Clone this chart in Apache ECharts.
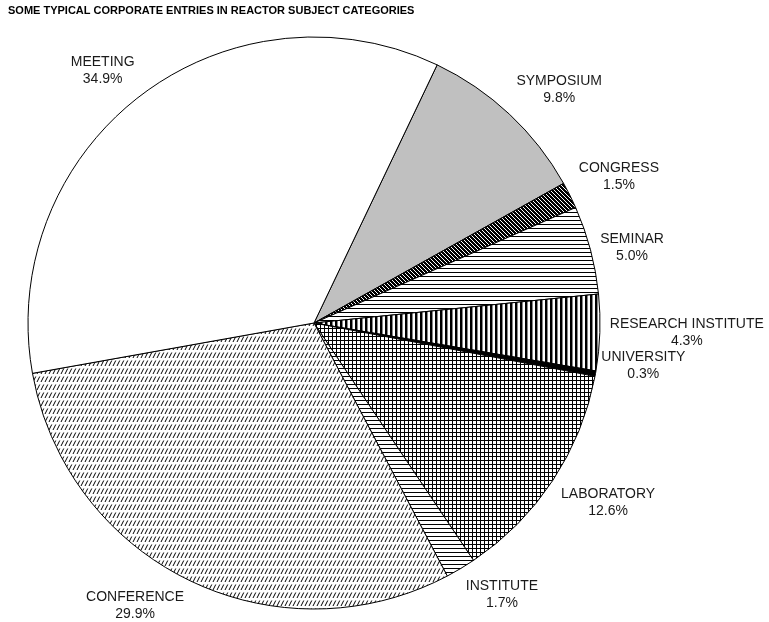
<!DOCTYPE html>
<html>
<head>
<meta charset="utf-8">
<title>Corporate entries in reactor subject categories</title>
<script src="https://cdn.jsdelivr.net/npm/echarts@6/dist/echarts.min.js"></script>
<style>
  html, body { margin: 0; padding: 0; background: #fff; }
  #chart { width: 769px; height: 622px; }
</style>
</head>
<body>
<div id="chart"></div>
<script>
  // data, clockwise from the top boundary
  const categories = ['SYMPOSIUM', 'CONGRESS', 'SEMINAR', 'RESEARCH INSTITUTE', 'UNIVERSITY',
    'LABORATORY', 'INSTITUTE', 'CONFERENCE', 'MEETING'];
  const shares = [9.8, 1.5, 5.0, 4.3, 0.3, 12.6, 1.7, 29.9, 34.9];
  const fills = ['gray', 'hatchBlack', 'hLines', 'vBars', 'solid', 'grid', 'hLines', 'diag', 'white'];

  const startAngle = 64.5;
  const center = [314, 323];
  const radius = 286;
  const total = shares.reduce((a, b) => a + b, 0);

  // the tiny slice label sits a bit higher, under its neighbour's label
  const labelNudge = { UNIVERSITY: [-4, -10] };

  // little canvas tiles for the black & white fills
  function makePattern(kind) {
    if (kind === 'gray') return '#c0c0c0';
    if (kind === 'solid') return '#000';
    if (kind === 'white') return '#fff';
    const c = document.createElement('canvas');
    const w = kind === 'vBars' ? 5 : 4;
    const h = kind === 'diag' ? 8 : w;
    c.width = w;
    c.height = h;
    const ctx = c.getContext('2d');
    ctx.fillStyle = kind === 'hatchBlack' ? '#000' : '#fff';
    ctx.fillRect(0, 0, w, h);
    ctx.fillStyle = '#000';
    if (kind === 'hLines') {
      ctx.fillRect(0, 0, w, 1);
    } else if (kind === 'vBars') {
      ctx.fillRect(0, 0, 2, h);
      ctx.fillStyle = '#888';
      ctx.fillRect(2, 0, 1, h);
    } else if (kind === 'grid') {
      ctx.fillRect(0, 0, w, 1);
      ctx.fillRect(0, 0, 1, h);
    } else if (kind === 'hatchBlack') {
      ctx.fillStyle = '#fff';
      for (let k = 0; k < w; k++) ctx.fillRect(k, k, 1, 1);
    } else if (kind === 'diag') {
      // steep, broken "/" strokes
      ctx.strokeStyle = '#000';
      ctx.lineWidth = 1;
      for (let s = -1; s <= 1; s++) {
        ctx.beginPath();
        ctx.moveTo(4 + s * 4 - 0.5 / 2, 0.5);
        ctx.lineTo(4 + s * 4 - 6 / 2, 6);
        ctx.stroke();
      }
    }
    return { image: c, repeat: 'repeat' };
  }

  const clamp = v => Math.max(-1, Math.min(1, v));

  const chart = echarts.init(document.getElementById('chart'));
  chart.setOption({
    animation: false,
    backgroundColor: '#fff',
    title: {
      text: 'SOME TYPICAL CORPORATE ENTRIES IN REACTOR SUBJECT CATEGORIES',
      left: 8,
      top: 5,
      padding: 0,
      textStyle: {
        fontFamily: 'Liberation Sans, Arial, sans-serif',
        fontSize: 11,
        fontWeight: 'bold',
        color: '#000'
      }
    },
    series: [{
      type: 'pie',
      center: center,
      radius: radius,
      startAngle: startAngle,
      clockwise: true,
      avoidLabelOverlap: false,
      emphasis: { disabled: true },
      itemStyle: { borderColor: '#000', borderWidth: 1 },
      label: {
        show: true,
        position: 'outside',
        fontFamily: 'Liberation Sans, Arial, sans-serif',
        fontSize: 14,
        lineHeight: 17,
        color: '#1a1a1a',
        formatter: p => p.name + '\n' + p.value.toFixed(1) + '%'
      },
      labelLine: { show: false },
      // put each label just outside the rim, on the middle angle of its slice
      labelLayout: function (p) {
        const i = p.dataIndex;
        let before = 0;
        for (let k = 0; k < i; k++) before += shares[k];
        const mid = (startAngle - (before + shares[i] / 2) / total * 360) * Math.PI / 180;
        const cs = Math.cos(mid), sn = Math.sin(mid);
        const r = radius + 10;
        const fx = clamp(cs * 2.5);
        const fy = -Math.sign(sn) * clamp(Math.max(0, Math.abs(sn) - 0.3) * 5.5);
        const nudge = labelNudge[categories[i]] || [0, 0];
        return {
          x: center[0] + r * cs + fx * p.labelRect.width / 2 + nudge[0],
          y: center[1] - r * sn + fy * p.labelRect.height / 2 + nudge[1],
          align: 'center',
          verticalAlign: 'middle'
        };
      },
      data: categories.map((name, i) => ({
        name: name,
        value: shares[i],
        itemStyle: { color: makePattern(fills[i]) }
      }))
    }]
  });
</script>
</body>
</html>
